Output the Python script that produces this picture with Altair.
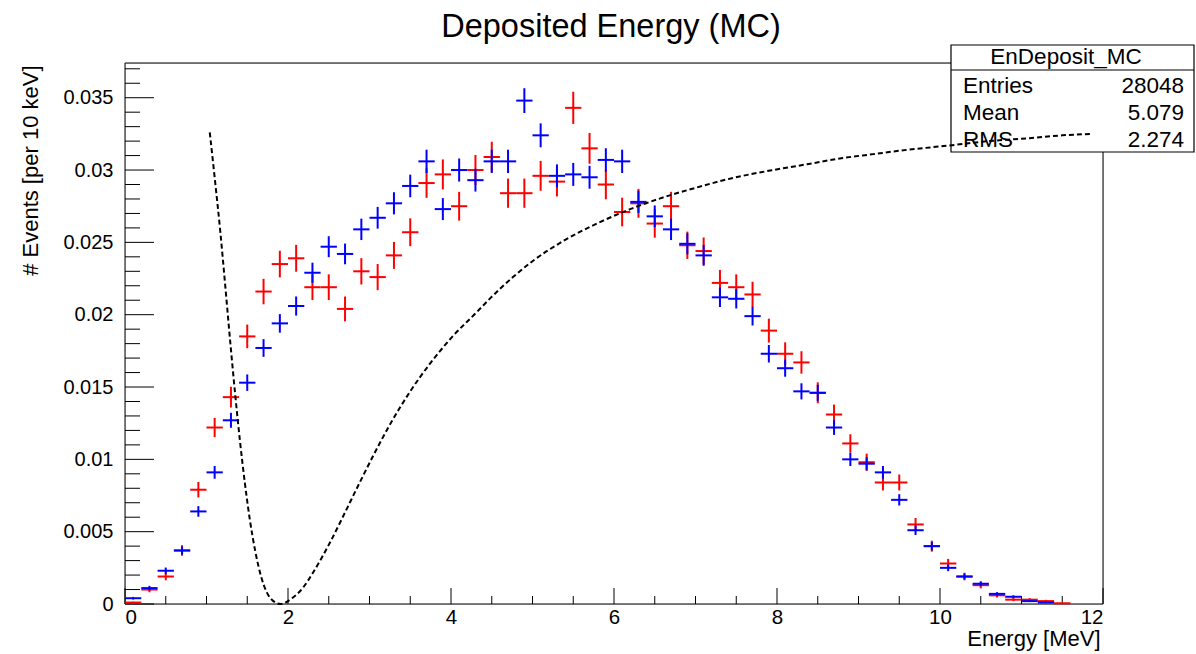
import altair as alt
import numpy as np
import pandas as pd

# ---------------- data ----------------
energy = [0.1, 0.3, 0.5, 0.7, 0.9, 1.1, 1.3, 1.5, 1.7, 1.9,
          2.1, 2.3, 2.5, 2.7, 2.9, 3.1, 3.3, 3.5, 3.7, 3.9,
          4.1, 4.3, 4.5, 4.7, 4.9, 5.1, 5.3, 5.5, 5.7, 5.9,
          6.1, 6.3, 6.5, 6.7, 6.9, 7.1, 7.3, 7.5, 7.7, 7.9,
          8.1, 8.3, 8.5, 8.7, 8.9, 9.1, 9.3, 9.5, 9.7, 9.9,
          10.1, 10.3, 10.5, 10.7, 10.9, 11.1, 11.3, 11.5]

red_vals = [0.0001, 0.0010, 0.0019, 0.0037, 0.0079, 0.0122, 0.0143, 0.0185, 0.0216, 0.0235,
            0.0239, 0.0219, 0.0219, 0.0204, 0.0230, 0.0226, 0.0241, 0.0257, 0.0291, 0.0297,
            0.0275, 0.0300, 0.0309, 0.0284, 0.0284, 0.0296, 0.0292, 0.0343, 0.0315, 0.0290,
            0.0271, 0.0277, 0.0263, 0.0275, 0.0248, 0.0244, 0.0222, 0.0219, 0.0214, 0.0189,
            0.0173, 0.0167, 0.0146, 0.0131, 0.0111, 0.0098, 0.0084, 0.0084, 0.0055, 0.0040,
            0.0028, 0.0019, 0.0013, 0.0006, 0.0003, 0.0003, 0.0002, 0.00005]

blue_vals = [0.0004, 0.0011, 0.0023, 0.0037, 0.0064, 0.0091, 0.0127, 0.0153, 0.0177, 0.0194,
             0.0206, 0.0229, 0.0247, 0.0242, 0.0259, 0.0267, 0.0277, 0.0289, 0.0306, 0.0273,
             0.0300, 0.0293, 0.0306, 0.0306, 0.0348, 0.0324, 0.0296, 0.0297, 0.0295, 0.0307,
             0.0306, 0.0278, 0.0268, 0.0259, 0.0249, 0.0241, 0.0212, 0.0211, 0.0199, 0.0173,
             0.0163, 0.0147, 0.0146, 0.0122, 0.0100, 0.0097, 0.0091, 0.0072, 0.0051, 0.0040,
             0.0025, 0.0019, 0.0014, 0.0007, 0.0005, 0.0002, 0.0001, None]

curve_x = [1.04, 1.10, 1.17, 1.23, 1.29, 1.35, 1.41, 1.47, 1.53, 1.60, 1.67, 1.74, 1.82, 1.91,
           2.05, 2.18, 2.31, 2.52, 2.68, 2.88, 3.05, 3.25, 3.50, 3.74, 4.02, 4.32, 4.44, 4.76,
           5.00, 5.38, 5.79, 6.20, 6.60, 7.02, 7.42, 7.95, 8.37, 8.77, 9.18, 9.60, 10.12,
           10.6, 11.1, 11.5, 11.85]
curve_y = [0.0326, 0.0295, 0.0257, 0.0220, 0.0182, 0.0146, 0.0113, 0.0084, 0.0059, 0.0036, 0.0019, 0.0008, 0.0002, 0.0,
           0.0004, 0.0011, 0.0022, 0.0043, 0.0061, 0.0084, 0.0103, 0.0124, 0.0147, 0.0166, 0.0185, 0.0202, 0.0209, 0.0226,
           0.0237, 0.0251, 0.0263, 0.0273, 0.0281, 0.0288, 0.0294, 0.0300, 0.0304, 0.0308, 0.0311, 0.0314, 0.0317,
           0.0320, 0.0322, 0.0324, 0.0325]

x_major = [0, 2, 4, 6, 8, 10, 12]
x_minor = [0.5, 1, 1.5, 2.5, 3, 3.5, 4.5, 5, 5.5, 6.5, 7, 7.5, 8.5, 9, 9.5, 10.5, 11, 11.5]
y_major = [0, 0.005, 0.01, 0.015, 0.02, 0.025, 0.03, 0.035]
y_minor = [0.001, 0.002, 0.003, 0.004, 0.006, 0.007, 0.008, 0.009, 0.011, 0.012, 0.013, 0.014,
           0.016, 0.017, 0.018, 0.019, 0.021, 0.022, 0.023, 0.024, 0.026, 0.027, 0.028, 0.029,
           0.031, 0.032, 0.033, 0.034, 0.036, 0.037]

hist_name = "EnDeposit_MC"
stat_names = ["Entries", "Mean", "RMS"]
stat_values = ["28048", "5.079", "2.274"]
title_text = "Deposited Energy (MC)"

# ---------------- layout ----------------
W, H = 978, 541
XMAX, YMAX = 12, 0.0374
FONT = "Liberation Sans"

xs = alt.Scale(domain=[0, XMAX], nice=False, zero=False)
ys = alt.Scale(domain=[0, YMAX], nice=False, zero=False)
one = pd.DataFrame({"a": [0]})

AX = alt.Axis(
    values=x_major, format="~g", labelFont=FONT, labelFontSize=20.5, labelColor="black",
    labelPadding=3, ticks=False, tickSize=0, domain=False, grid=False,
    title="Energy [MeV]", titleFont=FONT, titleFontSize=22, titleFontWeight="normal",
    titleColor="black", titleX=W - 3, titleY=34, titleAlign="right",
    titleBaseline="middle")
AY = alt.Axis(
    values=y_major, format="~g", labelFont=FONT, labelFontSize=20, labelColor="black",
    labelPadding=12, ticks=False, tickSize=0, domain=False, grid=False,
    title="# Events [per 10 keV]", titleFont=FONT, titleFontSize=22,
    titleFontWeight="normal", titleColor="black", titleX=-95, titleY=2,
    titleAngle=270, titleAlign="right", titleBaseline="middle")


def hist_layers(vals, k, color):
    df = pd.DataFrame({"e": energy, "v": vals}).dropna()
    df["err"] = k * np.sqrt(df["v"])
    base = alt.Chart(df).transform_calculate(
        lo="datum.e - 0.1", hi="datum.e + 0.1",
        vlo="datum.v - datum.err", vhi="datum.v + datum.err")
    hor = base.mark_rule(color=color, strokeWidth=2).encode(
        x=alt.X("lo:Q", scale=xs, axis=AX), x2="hi:Q",
        y=alt.Y("v:Q", scale=ys, axis=AY))
    ver = base.mark_rule(color=color, strokeWidth=2).encode(
        x=alt.X("e:Q", scale=xs, axis=AX),
        y=alt.Y("vlo:Q", scale=ys, axis=AY), y2="vhi:Q")
    return [hor, ver]


red = hist_layers(red_vals, 0.0060, "#ff0000")
blue = hist_layers(blue_vals, 0.0046, "#0000ff")

xmaj = alt.Chart(pd.DataFrame({"t": x_major})).mark_rule(color="black", strokeWidth=1).encode(
    x=alt.X("t:Q", scale=xs, axis=AX), y=alt.value(H), y2=alt.value(H - 16))
xmin = alt.Chart(pd.DataFrame({"t": x_minor})).mark_rule(color="black", strokeWidth=1).encode(
    x=alt.X("t:Q", scale=xs, axis=AX), y=alt.value(H), y2=alt.value(H - 8))
ymaj = alt.Chart(pd.DataFrame({"t": y_major})).mark_rule(color="black", strokeWidth=1).encode(
    y=alt.Y("t:Q", scale=ys, axis=AY), x=alt.value(0), x2=alt.value(29))
ymin = alt.Chart(pd.DataFrame({"t": y_minor})).mark_rule(color="black", strokeWidth=1).encode(
    y=alt.Y("t:Q", scale=ys, axis=AY), x=alt.value(0), x2=alt.value(15))

frame = alt.Chart(one).mark_rect(fill="transparent", stroke="black", strokeWidth=1).encode(
    x=alt.value(0), x2=alt.value(W), y=alt.value(0), y2=alt.value(H))

# stats box (pixel positions relative to plot origin at 125,63)
bx0, bx1, by0, by1 = 826, 1069, -18, 89
box = alt.Chart(one).mark_rect(fill="white", stroke="black", strokeWidth=1.2).encode(
    x=alt.value(bx0), x2=alt.value(bx1), y=alt.value(by0), y2=alt.value(by1))
sep = alt.Chart(one).mark_rule(color="black", strokeWidth=1.2).encode(
    x=alt.value(bx0), x2=alt.value(bx1), y=alt.value(7))
box_texts = [alt.Chart(one).mark_text(font=FONT, fontSize=22.5, align="center", baseline="middle",
                                      color="black").encode(
    x=alt.value(941), y=alt.value(-6), text=alt.value(hist_name))]
for i, (nm, vl) in enumerate(zip(stat_names, stat_values)):
    yy = 23 + 27 * i
    box_texts.append(alt.Chart(one).mark_text(font=FONT, fontSize=22.5, align="left",
                                              baseline="middle", color="black").encode(
        x=alt.value(838), y=alt.value(yy), text=alt.value(nm)))
    box_texts.append(alt.Chart(one).mark_text(font=FONT, fontSize=22.5, align="right",
                                              baseline="middle", color="black").encode(
        x=alt.value(1059), y=alt.value(yy), text=alt.value(vl)))

curve = alt.Chart(pd.DataFrame({"x": curve_x, "y": curve_y})).mark_line(
    color="black", strokeWidth=2, strokeDash=[5, 3], interpolate="monotone").encode(
    x=alt.X("x:Q", scale=xs, axis=AX), y=alt.Y("y:Q", scale=ys, axis=AY))

title = alt.Chart(one).mark_text(font=FONT, fontSize=32.5, align="center", baseline="middle",
                                 color="black").encode(
    x=alt.value(486), y=alt.value(-36), text=alt.value(title_text))

chart = alt.layer(
    frame, xmaj, xmin, ymaj, ymin, *red, *blue, box, sep, *box_texts, curve, title
).properties(
    width=W, height=H,
    autosize=alt.AutoSizeParams(type="none"),
    padding={"left": 125, "top": 63, "right": 93, "bottom": 50},
).configure_view(stroke=None).configure(background="white")

chart.save("out.html", embed_options={"renderer": "svg", "actions": False})
